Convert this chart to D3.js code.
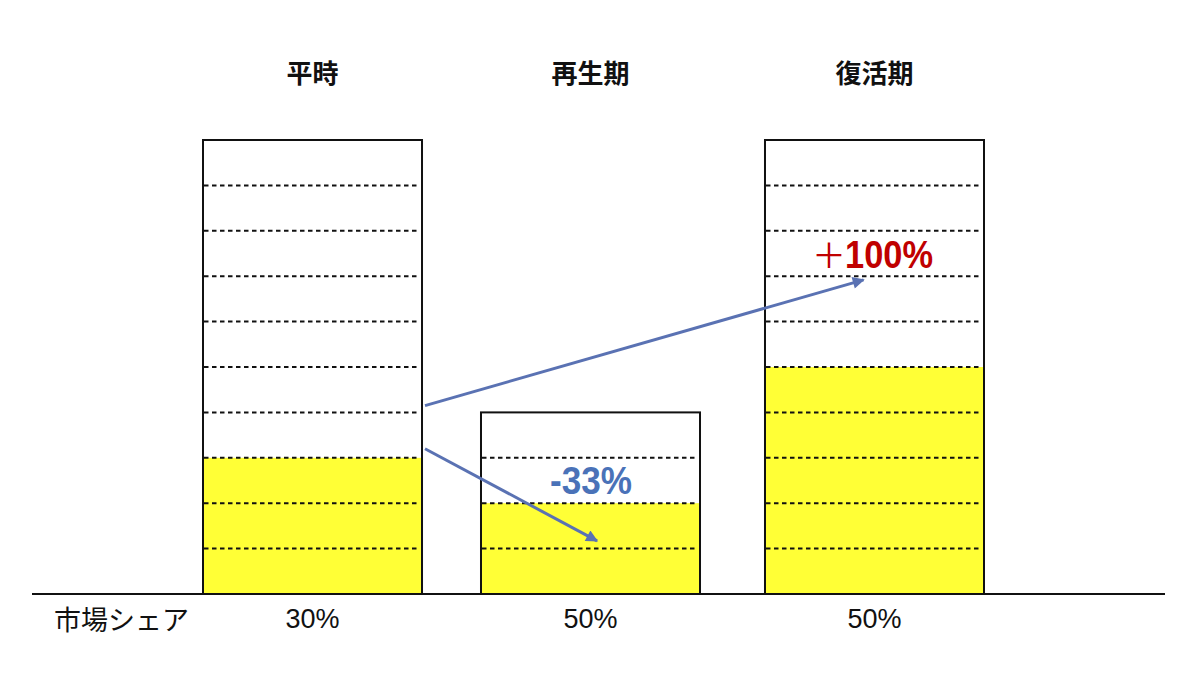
<!DOCTYPE html>
<html lang="ja">
<head>
    <meta charset="UTF-8">
    <title>市場シェア</title>
    <style>
        *{
            margin: 0;
            padding: 0;
        }
        body{
            width: 1200px;
            height: 675px;
            background: #fff;
            overflow: hidden;
        }
        .title{
            font-family: "Noto Sans CJK JP", sans-serif;
            font-weight: bold;
            font-size: 26px;
            fill: #111;
        }
        .share{
            font-family: "Liberation Sans", Arial, sans-serif;
            font-size: 27px;
            fill: #111;
        }
        .shareName{
            font-family: "Noto Sans CJK JP", sans-serif;
            font-size: 27px;
            fill: #111;
        }
        .note{
            font-family: "Liberation Sans", sans-serif;
            font-weight: bold;
            font-size: 39px;
        }
    </style>
</head>
<body>
<svg id="chart" width="1200" height="675"></svg>
<script src="https://cdn.jsdelivr.net/npm/d3@7/dist/d3.min.js"></script>
<script>
    /*データ*/
    var periods = ["平時", "再生期", "復活期"];
    var totals = [10, 4, 10];        // 市場全体の大きさ（目盛り数）
    var shares = [3, 2, 5];          // 自社の分
    var shareLabels = ["30%", "50%", "50%"];
    var rowLabel = "市場シェア";
    var changeLabels = ["-33%", "100%"];

    var svg = d3.select("#chart");

    /*比例尺*/
    var x = d3.scaleBand()
        .domain(periods)
        .range([203, 984])
        .paddingInner(0.2206)
        .paddingOuter(0);
    var y = d3.scaleLinear()
        .domain([0, 10])
        .range([594, 140]);
    var bw = x.bandwidth();

    /*真ん中の棒は少し左に寄っている*/
    function left(d, i) {
        return x(d) - (i === 1 ? 3 : 0);
    }
    function mid(d, i) {
        return left(d, i) + bw / 2;
    }

    var bars = svg.append("g").selectAll("g")
        .data(periods)
        .enter()
        .append("g")
        .attr("transform", function (d, i) {
            return "translate(" + left(d, i) + ",0)";
        });

    /*黄色の部分*/
    bars.append("rect")
        .attr("x", 0)
        .attr("width", bw)
        .attr("y", function (d, i) { return y(shares[i]); })
        .attr("height", function (d, i) { return y(0) - y(shares[i]); })
        .attr("fill", "#ffff36");

    /*点線*/
    bars.each(function (d, i) {
        d3.select(this).selectAll("line")
            .data(d3.range(1, totals[i]))
            .enter()
            .append("line")
            .attr("x1", 1)
            .attr("x2", bw - 3)
            .attr("y1", function (k) { return y(k); })
            .attr("y2", function (k) { return y(k); })
            .attr("stroke", "#111")
            .attr("stroke-width", 2)
            .attr("stroke-dasharray", "4.5,3.5");
    });

    /*枠*/
    bars.append("rect")
        .attr("x", 0)
        .attr("width", bw)
        .attr("y", function (d, i) { return y(totals[i]); })
        .attr("height", function (d, i) { return y(0) - y(totals[i]); })
        .attr("fill", "none")
        .attr("stroke", "#111")
        .attr("stroke-width", 2);

    /*基線*/
    svg.append("line")
        .attr("x1", 32)
        .attr("x2", 1165)
        .attr("y1", y(0))
        .attr("y2", y(0))
        .attr("stroke", "#111")
        .attr("stroke-width", 2);

    /*タイトル*/
    svg.append("g").selectAll("text")
        .data(periods)
        .enter()
        .append("text")
        .attr("class", "title")
        .attr("x", mid)
        .attr("y", 83)
        .attr("text-anchor", "middle")
        .text(function (d) { return d; });

    /*市場シェア*/
    svg.append("text")
        .attr("class", "shareName")
        .attr("x", 54)
        .attr("y", 630)
        .text(rowLabel);
    svg.append("g").selectAll("text")
        .data(periods)
        .enter()
        .append("text")
        .attr("class", "share")
        .attr("x", mid)
        .attr("y", 628)
        .attr("text-anchor", "middle")
        .text(function (d, i) { return shareLabels[i]; });

    /*矢印*/
    var arrowCol = "#5a72b3";
    svg.append("defs").append("marker")
        .attr("id", "head")
        .attr("viewBox", "0 0 10 10")
        .attr("refX", 9)
        .attr("refY", 5)
        .attr("markerWidth", 5)
        .attr("markerHeight", 4)
        .attr("markerUnits", "strokeWidth")
        .attr("orient", "auto")
        .append("path")
        .attr("d", "M0,0L10,5L0,10z")
        .attr("fill", arrowCol);

    var x0 = x(periods[0]) + bw + 3;
    var arrows = [
        [x0, y(4.15), x(periods[2]) + bw * 0.45, y(6.92)],
        [x0, y(3.2), left(periods[1], 1) + bw * 0.53, y(1.17)]
    ];
    svg.append("g").selectAll("line")
        .data(arrows)
        .enter()
        .append("line")
        .attr("x1", function (d) { return d[0]; })
        .attr("y1", function (d) { return d[1]; })
        .attr("x2", function (d) { return d[2]; })
        .attr("y2", function (d) { return d[3]; })
        .attr("stroke", arrowCol)
        .attr("stroke-width", 3)
        .attr("marker-end", "url(#head)");

    /*増減*/
    svg.append("text")
        .attr("class", "note")
        .attr("x", 550)
        .attr("y", y(2.2))
        .attr("textLength", 82)
        .attr("lengthAdjust", "spacingAndGlyphs")
        .attr("fill", "#4a72b8")
        .text(changeLabels[0]);

    var up = svg.append("g")
        .attr("fill", "#c00000");
    up.append("text")
        .attr("x", 812)
        .attr("y", y(7.18))
        .style("font-family", "'Noto Sans CJK JP', sans-serif")
        .style("font-size", "34px")
        .text("＋");
    up.append("text")
        .attr("class", "note")
        .attr("x", 845)
        .attr("y", y(7.18))
        .attr("textLength", 88)
        .attr("lengthAdjust", "spacingAndGlyphs")
        .text(changeLabels[1]);
</script>
</body>
</html>
